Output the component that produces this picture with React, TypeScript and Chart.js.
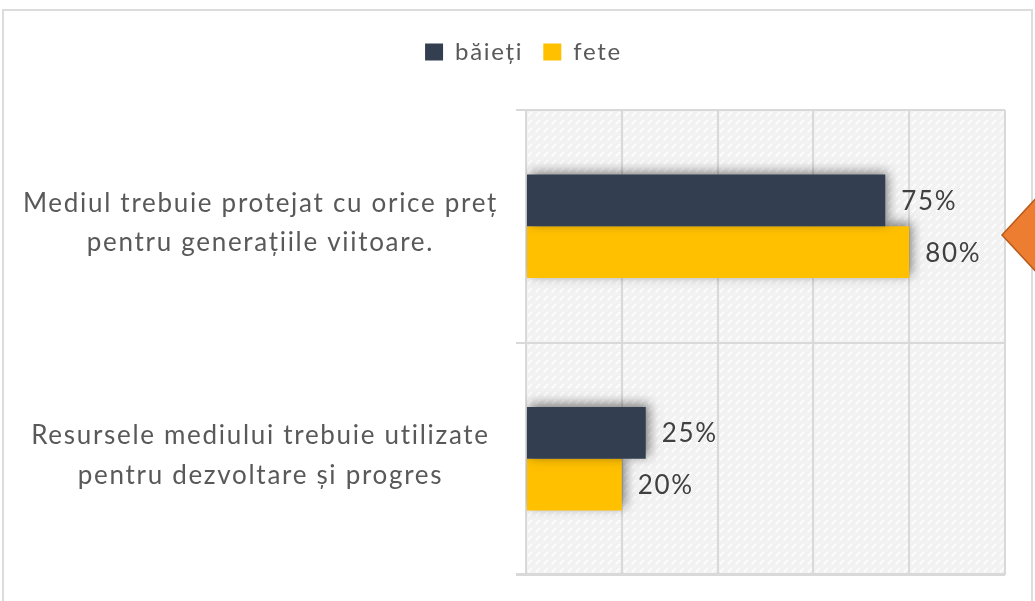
import React, { useEffect, useRef } from 'react';
import { Chart, registerables } from 'chart.js';

Chart.register(...registerables);

const categories: string[][] = [
  ['Mediul trebuie protejat cu orice preț', 'pentru generațiile viitoare.'],
  ['Resursele mediului trebuie utilizate', 'pentru dezvoltare și progres'],
];
const seriesNames = ['băieți', 'fete'];
const baietiValues = [75, 25];
const feteValues = [80, 20];
const xTicks = [0, 20, 40, 60, 80, 100];

const NAVY = '#333F50';
const GOLD = '#FFC000';
const GRID = '#d9d9d9';

function makePattern(ctx: CanvasRenderingContext2D) {
  const c = document.createElement('canvas');
  c.width = 8;
  c.height = 8;
  const p = c.getContext('2d')!;
  p.fillStyle = '#f1f1f1';
  p.fillRect(0, 0, 8, 8);
  p.strokeStyle = '#fcfcfc';
  p.lineWidth = 2;
  p.beginPath();
  p.moveTo(-2, 6);
  p.lineTo(4, 0);
  p.moveTo(2, 10);
  p.lineTo(10, 2);
  p.stroke();
  p.strokeStyle = '#e6e6e6';
  p.lineWidth = 1;
  p.beginPath();
  p.moveTo(4, 8);
  p.lineTo(8, 4);
  p.stroke();
  return ctx.createPattern(c, 'repeat');
}

export default function App() {
  const ref = useRef<HTMLCanvasElement>(null);

  useEffect(() => {
    const canvas = ref.current!;
    const ctx = canvas.getContext('2d')!;
    const pattern = makePattern(ctx);

    const textSpacing = {
      id: 'textSpacing',
      beforeLayout(chart: any) {
        (chart.ctx as any).letterSpacing = '1.7px';
      },
      beforeDraw(chart: any) {
        (chart.ctx as any).letterSpacing = '1.7px';
      },
    };

    const legendSpacing = {
      id: 'legendSpacing',
      beforeInit(chart: any) {
        const legend = chart.legend;
        if (!legend) return;
        const orig = legend.fit;
        legend.fit = function fit() {
          orig.call(this);
          this.height = 90;
        };
      },
      afterLayout(chart: any) {
        const legend = chart.legend;
        if (!legend) return;
        legend.left += 21;
        legend.right += 21;
      },
    };

    const background = {
      id: 'plotBackground',
      beforeDraw(chart: any) {
        const { ctx: c, chartArea: a } = chart;
        c.save();
        c.fillStyle = pattern || '#f3f3f3';
        c.fillRect(a.left, a.top, a.right - a.left, a.bottom - a.top);
        c.restore();
      },
    };

    const bottomLine = {
      id: 'bottomLine',
      afterDatasetsDraw(chart: any) {
        const { ctx: c, chartArea: a } = chart;
        c.save();
        c.strokeStyle = GRID;
        c.lineWidth = 2;
        c.beginPath();
        c.moveTo(a.left - 10, a.bottom - 1);
        c.lineTo(a.right + 1, a.bottom - 1);
        c.stroke();
        c.restore();
      },
    };

    const shadow = {
      id: 'barShadow',
      beforeDatasetsDraw(chart: any) {
        const c = chart.ctx;
        c.save();
        c.shadowColor = 'rgba(0,0,0,0.5)';
        c.shadowBlur = 11;
        c.shadowOffsetX = 3;
        c.shadowOffsetY = -3;
      },
      afterDatasetsDraw(chart: any) {
        chart.ctx.restore();
      },
    };

    const valueLabels = {
      id: 'valueLabels',
      afterDatasetsDraw(chart: any) {
        const c = chart.ctx;
        c.save();
        c.font = '26px Lato';
        c.fillStyle = '#404040';
        c.textAlign = 'left';
        c.textBaseline = 'middle';
        chart.data.datasets.forEach((ds: any, i: number) => {
          const meta = chart.getDatasetMeta(i);
          meta.data.forEach((el: any, j: number) => {
            c.fillText(`${ds.data[j]}%`, el.x + 16, el.y + 1);
          });
        });
        c.restore();
      },
    };

    const arrow = {
      id: 'sideArrow',
      afterDraw(chart: any) {
        const c = chart.ctx;
        c.save();
        c.beginPath();
        c.moveTo(1002, 235);
        c.lineTo(1040, 194);
        c.lineTo(1078, 235);
        c.lineTo(1040, 276);
        c.closePath();
        c.fillStyle = '#ED7D31';
        c.fill();
        c.strokeStyle = '#B85A1C';
        c.lineWidth = 1.5;
        c.stroke();
        c.restore();
      },
    };

    const chart = new Chart(ctx, {
      type: 'bar',
      data: {
        labels: categories,
        datasets: [
          { label: seriesNames[0], data: baietiValues, backgroundColor: NAVY, borderWidth: 0 },
          { label: seriesNames[1], data: feteValues, backgroundColor: GOLD, borderWidth: 0 },
        ],
      },
      options: {
        indexAxis: 'y',
        responsive: false,
        animation: false,
        layout: { padding: { top: 20, right: 30, bottom: 26, left: 0 } },
        datasets: { bar: { barPercentage: 1, categoryPercentage: 0.445 } } as any,
        plugins: {
          legend: {
            position: 'top',
            align: 'center',
            labels: {
              boxWidth: 18,
              boxHeight: 17,
              padding: 20,
              color: '#595959',
              font: { family: 'Lato', size: 24 },
            },
          },
          tooltip: { enabled: false },
        },
        scales: {
          x: {
            min: 0,
            max: 100,
            afterBuildTicks: (s: any) => {
              s.ticks = xTicks.map((v) => ({ value: v }));
            },
            afterFit: (s: any) => {
              s.height = 0;
              s.paddingLeft = 0;
              s.paddingRight = 0;
            },
            ticks: { display: false },
            grid: { color: GRID, lineWidth: 2, drawTicks: false },
            border: { display: false },
          },
          y: {
            ticks: {
              crossAlign: 'center',
              padding: 18,
              labelOffset: -3,
              color: '#595959',
              font: { family: 'Lato', size: 26, lineHeight: 1.52 },
            },
            grid: { color: GRID, lineWidth: 2, tickLength: 10 },
            border: { display: true, color: GRID, width: 2 },
            afterFit: (s: any) => {
              s.width = 526;
              s.paddingTop = 0;
              s.paddingBottom = 0;
            },
          },
        },
      } as any,
      plugins: [textSpacing, legendSpacing, background, shadow, bottomLine, valueLabels, arrow] as any,
    });
    return () => chart.destroy();
  }, []);

  return (
    <div style={{ position: 'fixed', left: 0, top: 0, width: 1035, height: 601, background: '#fff', overflow: 'hidden' }}>
      <div
        style={{
          position: 'absolute',
          left: 2,
          top: 9,
          width: 1031,
          height: 700,
          border: '2px solid #dcdcdc',
          boxSizing: 'border-box',
        }}
      />
      <canvas ref={ref} width={1035} height={601} style={{ position: 'absolute', left: 0, top: 0 }} />
    </div>
  );
}
